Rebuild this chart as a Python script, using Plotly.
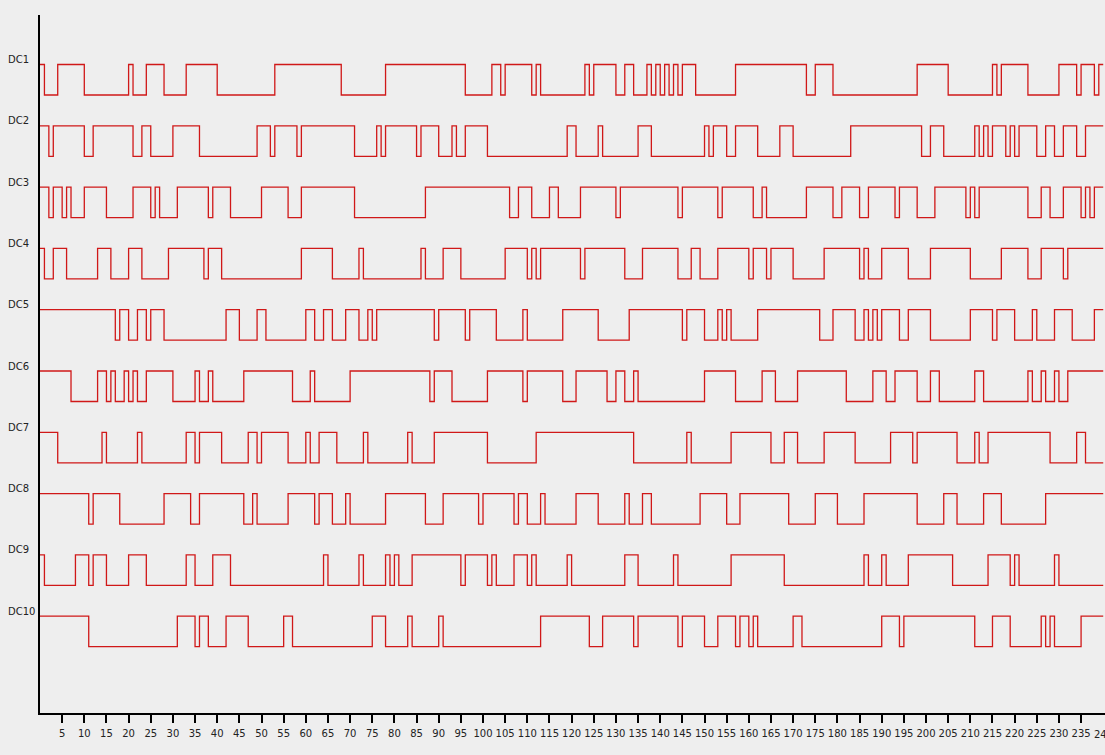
import plotly.graph_objects as go

T_END = 240
channel_names = ["DC1", "DC2", "DC3", "DC4", "DC5", "DC6", "DC7", "DC8", "DC9", "DC10"]
initial_levels = [1, 1, 1, 1, 1, 1, 1, 1, 1, 1]

# transition times (level toggles) for each channel
dc1_edges = [1, 4, 10, 20, 21, 24, 28, 33, 40, 53, 68, 78, 96, 102, 104, 105, 111, 112, 113, 123, 124, 125,
             130, 132, 134, 137, 138, 139, 140, 141, 142, 143, 144, 145, 148, 157, 173, 175, 179, 198, 205,
             215, 216, 217, 223, 230, 234, 235, 238, 239]
dc2_edges = [2, 3, 10, 12, 21, 23, 25, 30, 36, 49, 52, 53, 58, 59, 71, 76, 77, 78, 85, 86, 90, 93, 94, 96, 101,
             119, 121, 126, 127, 135, 138, 150, 151, 152, 155, 157, 162, 167, 170, 183, 199, 201, 204, 211, 212,
             213, 214, 215, 218, 219, 220, 221, 225, 227, 229, 231, 234, 236]
dc3_edges = [2, 3, 5, 6, 7, 10, 15, 21, 25, 26, 27, 31, 38, 39, 43, 50, 56, 59, 71, 87, 106, 108, 111, 115, 117,
             122, 130, 131, 144, 145, 153, 154, 161, 163, 164, 173, 179, 181, 185, 187, 193, 194, 198, 202, 209,
             210, 211, 212, 223, 226, 228, 231, 235, 236, 237, 238]
dc4_edges = [1, 3, 6, 13, 16, 20, 23, 29, 37, 38, 41, 59, 66, 72, 73, 86, 87, 91, 95, 105, 110, 111, 112, 113,
             122, 123, 132, 136, 144, 147, 149, 153, 160, 161, 164, 165, 170, 177, 185, 186, 187, 190, 196, 201,
             210, 217, 223, 226, 231, 232]
dc5_edges = [17, 18, 20, 22, 24, 25, 28, 42, 45, 49, 51, 60, 62, 64, 66, 69, 72, 74, 75, 76, 89, 90, 96, 97, 103,
             109, 110, 118, 126, 133, 145, 146, 150, 153, 154, 155, 156, 162, 176, 179, 184, 186, 187, 188, 189,
             190, 194, 196, 201, 210, 215, 216, 220, 224, 225, 229, 233, 238]
dc6_edges = [7, 13, 15, 16, 17, 19, 20, 21, 22, 24, 30, 35, 36, 38, 39, 46, 57, 61, 62, 70, 88, 89, 93, 101, 109,
             110, 118, 121, 128, 130, 132, 134, 135, 150, 157, 163, 166, 171, 182, 188, 191, 193, 198, 201, 203,
             211, 213, 223, 224, 226, 227, 229, 230, 232]
dc7_edges = [4, 14, 15, 22, 23, 33, 35, 36, 41, 47, 49, 50, 56, 60, 61, 63, 67, 73, 74, 83, 84, 89, 101, 112, 134,
             146, 147, 156, 165, 168, 171, 177, 184, 192, 197, 198, 207, 211, 212, 214, 228, 234, 236]
dc8_edges = [11, 12, 18, 28, 34, 36, 46, 48, 49, 56, 62, 63, 66, 69, 70, 78, 87, 91, 99, 100, 107, 108, 110, 113,
             114, 121, 126, 132, 133, 136, 138, 149, 155, 158, 169, 175, 180, 186, 198, 204, 207, 213, 217, 227]
dc9_edges = [1, 8, 11, 12, 15, 20, 24, 33, 35, 39, 43, 64, 65, 72, 73, 78, 79, 80, 81, 84, 95, 96, 101, 102, 103,
             107, 110, 111, 112, 119, 120, 132, 135, 143, 144, 156, 168, 186, 187, 190, 191, 196, 206, 214, 219,
             220, 221, 229, 230]
dc10_edges = [11, 31, 35, 36, 38, 42, 47, 55, 57, 75, 78, 83, 84, 90, 91, 113, 124, 127, 134, 135, 144, 145, 150,
              153, 157, 158, 160, 161, 162, 170, 172, 190, 194, 195, 211, 215, 219, 226, 227, 228, 229, 235]

all_edges = [dc1_edges, dc2_edges, dc3_edges, dc4_edges, dc5_edges,
             dc6_edges, dc7_edges, dc8_edges, dc9_edges, dc10_edges]
x_tick_values = list(range(5, 241, 5))

# layout constants (pixel-like vertical units, top = 0)
FIRST_HIGH = 49.5
SPACING = 61.3
AMPLITUDE = 30.5
Y_SPAN = 698
LINE_COLOR = "#d01818"
TICK_FONT = dict(family="DejaVu Sans", size=10, color="#222222")

fig = go.Figure()
for k, (name, init, edges) in enumerate(zip(channel_names, initial_levels, all_edges)):
    times = [0] + edges + [T_END]
    levels = []
    lvl = init
    for i in range(len(times)):
        levels.append(lvl)
        if i < len(edges):
            lvl = 1 - lvl
    levels[-1] = levels[-2]
    high_y = FIRST_HIGH + k * SPACING
    ys = [high_y + (1 - v) * AMPLITUDE for v in levels]
    fig.add_trace(go.Scatter(x=times, y=ys, mode="lines", line_shape="hv",
                             line=dict(color=LINE_COLOR, width=1.3),
                             name=name, hoverinfo="skip", showlegend=False))
    fig.add_annotation(xref="paper", yref="y", x=-34 / 1065, y=high_y - 5, text=name,
                       showarrow=False, xanchor="left", yanchor="middle",
                       font=dict(family="DejaVu Sans", size=10, color="#222222"))

# last tick label, cut off by the right edge as in the original
fig.add_annotation(xref="x", yref="paper", x=x_tick_values[-1], y=0, yshift=-21,
                   text=str(x_tick_values[-1]), showarrow=False,
                   xanchor="center", yanchor="middle", font=TICK_FONT)

fig.update_layout(
    width=1105, height=755,
    margin=dict(l=40, r=0, t=15, b=42),
    paper_bgcolor="#eeeeee", plot_bgcolor="#eeeeee",
    showlegend=False,
    xaxis=dict(range=[0, 240.4], showline=True, linecolor="black", linewidth=2,
               ticks="outside", ticklen=8, tickwidth=2, tickcolor="black",
               tickvals=x_tick_values[:-1], ticktext=[str(v) for v in x_tick_values[:-1]],
               tickfont=TICK_FONT, ticklabelstandoff=2,
               showgrid=False, zeroline=False, fixedrange=True),
    yaxis=dict(range=[Y_SPAN, 0], showline=True, linecolor="black", linewidth=2,
               showticklabels=False, ticks="", showgrid=False, zeroline=False, fixedrange=True),
)
# tick mark for the last value (label drawn separately above)
fig.add_shape(type="line", xref="x", yref="paper", x0=x_tick_values[-1], x1=x_tick_values[-1],
              y0=0, y1=0, line=dict(color="black", width=2))

fig.write_html("out.html", config={"displayModeBar": False})
